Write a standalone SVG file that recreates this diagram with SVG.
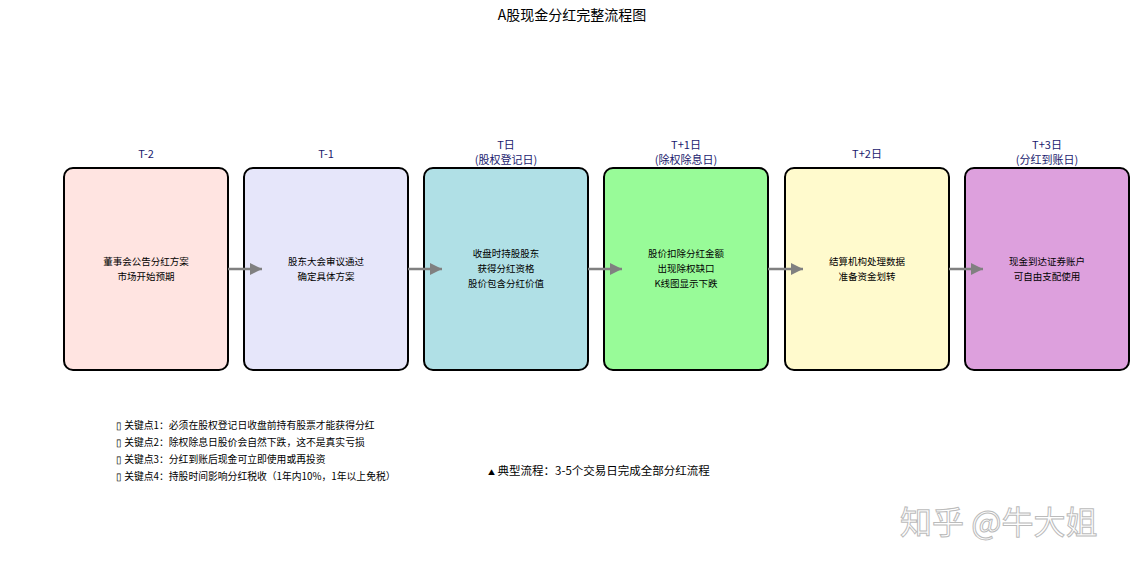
<svg xmlns="http://www.w3.org/2000/svg" width="1144" height="568" viewBox="0 0 1144 568">
<defs>
<style>
text{font-family:"Noto Sans CJK SC","Noto Sans",sans-serif}
.box{stroke:#000;stroke-width:2}
.lab{font-size:11px;fill:#1a1a6e;text-anchor:middle}
.in{font-size:9.5px;fill:#000;text-anchor:middle}
.note{font-size:9.8px;fill:#000}
.con{stroke:#808080;stroke-width:2.5;fill:none}
</style>
<marker id="ah" viewBox="0 0 10 10" refX="10" refY="5" markerWidth="5" markerHeight="5" orient="auto" markerUnits="strokeWidth"><path d="M0,0L10,5L0,10z" fill="#808080"/></marker>
</defs>
<rect width="1144" height="568" fill="#fff"/>
<text x="572" y="20" font-size="14" text-anchor="middle">A股现金分红完整流程图</text>
<g id="n1"><text class="lab" x="146" y="158">T-2</text><rect class="box" x="64" y="168" width="164" height="202" rx="9" fill="#FFE4E1"/><text class="in" x="146" y="265">董事会公告分红方案</text><text class="in" x="146" y="280">市场开始预期</text></g>
<g id="n2"><text class="lab" x="326" y="158">T-1</text><rect class="box" x="244" y="168" width="164" height="202" rx="9" fill="#E6E6FA"/><text class="in" x="326" y="265">股东大会审议通过</text><text class="in" x="326" y="280">确定具体方案</text></g>
<g id="n3"><text class="lab" x="506" y="149">T日</text><text class="lab" x="506" y="164">(股权登记日)</text><rect class="box" x="424" y="168" width="164" height="202" rx="9" fill="#B0E0E6"/><text class="in" x="506" y="257">收盘时持股股东</text><text class="in" x="506" y="272">获得分红资格</text><text class="in" x="506" y="287">股价包含分红价值</text></g>
<g id="n4"><text class="lab" x="686" y="149">T+1日</text><text class="lab" x="686" y="164">(除权除息日)</text><rect class="box" x="604" y="168" width="164" height="202" rx="9" fill="#98FB98"/><text class="in" x="686" y="257">股价扣除分红金额</text><text class="in" x="686" y="272">出现除权缺口</text><text class="in" x="686" y="287">K线图显示下跌</text></g>
<g id="n5"><text class="lab" x="867" y="158">T+2日</text><rect class="box" x="785" y="168" width="164" height="202" rx="9" fill="#FFFACD"/><text class="in" x="867" y="265">结算机构处理数据</text><text class="in" x="867" y="280">准备资金划转</text></g>
<g id="n6"><text class="lab" x="1047" y="149">T+3日</text><text class="lab" x="1047" y="164">(分红到账日)</text><rect class="box" x="965" y="168" width="164" height="202" rx="9" fill="#DDA0DD"/><text class="in" x="1047" y="265">现金到达证券账户</text><text class="in" x="1047" y="280">可自由支配使用</text></g>
<g id="connectors">
<line class="con" x1="228" y1="269" x2="262" y2="269" marker-end="url(#ah)"/>
<line class="con" x1="408" y1="269" x2="442" y2="269" marker-end="url(#ah)"/>
<line class="con" x1="588" y1="269" x2="622" y2="269" marker-end="url(#ah)"/>
<line class="con" x1="768" y1="269" x2="803" y2="269" marker-end="url(#ah)"/>
<line class="con" x1="949" y1="269" x2="983" y2="269" marker-end="url(#ah)"/>
</g>
<g id="notes">
<text class="note" x="116" y="429">▯ 关键点1：必须在股权登记日收盘前持有股票才能获得分红</text>
<text class="note" x="116" y="446">▯ 关键点2：除权除息日股价会自然下跌，这不是真实亏损</text>
<text class="note" x="116" y="463">▯ 关键点3：分红到账后现金可立即使用或再投资</text>
<text class="note" x="116" y="480">▯ 关键点4：持股时间影响分红税收（1年内10%，1年以上免税）</text>
<text x="488" y="475" font-size="11.5"><tspan font-size="7">▲</tspan> 典型流程：3-5个交易日完成全部分红流程</text>
</g>
<text x="900" y="534" font-size="32" fill="#fff" stroke="#bbb" stroke-width="1">知乎 @牛大姐</text>
</svg>
